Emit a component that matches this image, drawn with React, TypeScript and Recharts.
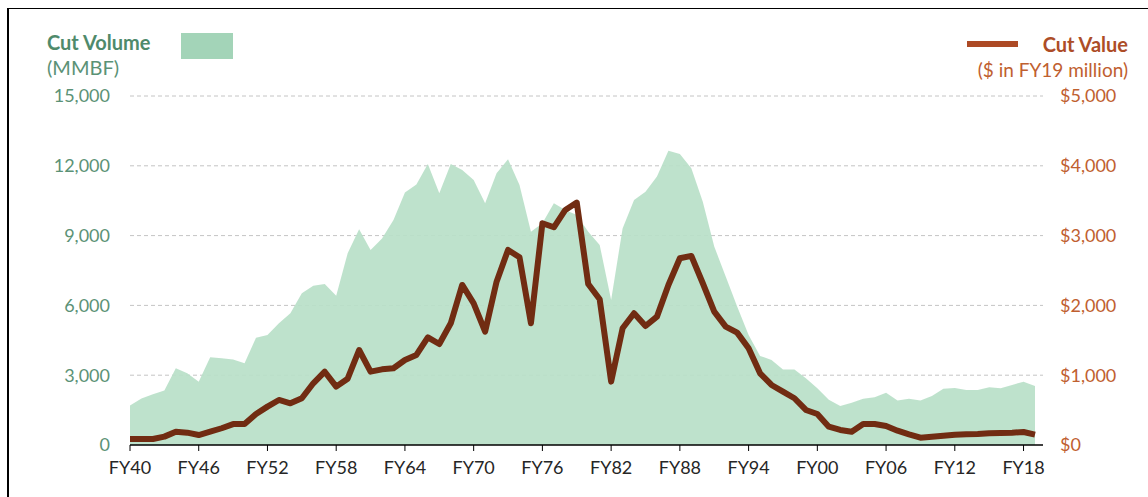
import { ComposedChart, Area, Line, XAxis, YAxis, CartesianGrid } from 'recharts';

const years = [
  'FY40', 'FY41', 'FY42', 'FY43', 'FY44', 'FY45', 'FY46', 'FY47', 'FY48', 'FY49',
  'FY50', 'FY51', 'FY52', 'FY53', 'FY54', 'FY55', 'FY56', 'FY57', 'FY58', 'FY59',
  'FY60', 'FY61', 'FY62', 'FY63', 'FY64', 'FY65', 'FY66', 'FY67', 'FY68', 'FY69',
  'FY70', 'FY71', 'FY72', 'FY73', 'FY74', 'FY75', 'FY76', 'FY77', 'FY78', 'FY79',
  'FY80', 'FY81', 'FY82', 'FY83', 'FY84', 'FY85', 'FY86', 'FY87', 'FY88', 'FY89',
  'FY90', 'FY91', 'FY92', 'FY93', 'FY94', 'FY95', 'FY96', 'FY97', 'FY98', 'FY99',
  'FY00', 'FY01', 'FY02', 'FY03', 'FY04', 'FY05', 'FY06', 'FY07', 'FY08', 'FY09',
  'FY10', 'FY11', 'FY12', 'FY13', 'FY14', 'FY15', 'FY16', 'FY17', 'FY18', 'FY19',
];

// cut volume, MMBF
const cutVolume = [
  1700, 2000, 2180, 2340, 3300, 3080, 2720, 3770, 3730, 3680,
  3510, 4610, 4730, 5230, 5660, 6520, 6840, 6920, 6420, 8240,
  9270, 8380, 8880, 9670, 10850, 11200, 12080, 10820, 12080, 11820,
  11390, 10390, 11680, 12280, 11180, 9170, 9530, 10390, 10100, 9890,
  9170, 8600, 6230, 9310, 10530, 10890, 11540, 12650, 12510, 11890,
  10460, 8530, 7240, 5950, 4730, 3830, 3650, 3250, 3250, 2870,
  2440, 1940, 1680, 1820, 1990, 2050, 2250, 1910, 1990, 1910,
  2110, 2420, 2450, 2360, 2360, 2480, 2440, 2580, 2720, 2540,
];

// cut value, $ in FY19 million
const cutValue = [
  86, 86, 86, 120, 190, 177, 143, 190, 240, 300,
  300, 444, 550, 645, 597, 669, 884, 1050, 836, 950,
  1361, 1051, 1084, 1099, 1218, 1290, 1543, 1447, 1744, 2293,
  2030, 1624, 2340, 2795, 2690, 1744, 3177, 3119, 3368, 3473,
  2307, 2088, 908, 1672, 1887, 1705, 1839, 2293, 2675, 2709,
  2317, 1911, 1696, 1610, 1385, 1027, 860, 764, 670, 502,
  444, 263, 215, 191, 301, 301, 272, 205, 153, 105,
  119, 134, 148, 153, 158, 167, 172, 177, 186, 148,
];

const volumeTicks = [0, 3000, 6000, 9000, 12000, 15000];
const valueTicks = [0, 1000, 2000, 3000, 4000, 5000];

const data = years.map((year, i) => ({ year, volume: cutVolume[i], value: cutValue[i] }));

const green = '#5b9276';
const rust = '#bf6030';

export default function App() {
  return (
    <div style={{ position: 'relative', width: 1148, height: 497, fontFamily: 'Lato, sans-serif', background: '#fff', overflow: 'hidden' }}>
      <style>{'body{margin:0}'}</style>
      <div style={{ position: 'absolute', left: 7, top: 8, width: 1200, height: 600, borderLeft: '2px solid #000', borderTop: '1px solid #000' }} />

      {/* left header */}
      <div style={{ position: 'absolute', left: 47, top: 30, fontSize: 20, fontWeight: 700, color: '#4f8a6b', lineHeight: '24px' }}>Cut Volume</div>
      <div style={{ position: 'absolute', left: 47, top: 55, fontSize: 20, color: green, lineHeight: '24px' }}>(MMBF)</div>
      <div style={{ position: 'absolute', left: 181, top: 33, width: 52, height: 26, background: '#a3d4b8' }} />

      {/* right header */}
      <div style={{ position: 'absolute', left: 967, top: 41, width: 51, height: 6, background: '#ad4a25' }} />
      <div style={{ position: 'absolute', right: 20, top: 32, fontSize: 20, fontWeight: 700, color: '#ad4d27', lineHeight: '24px' }}>Cut Value</div>
      <div style={{ position: 'absolute', right: 20, top: 58, fontSize: 19, color: rust, lineHeight: '24px' }}>($ in FY19 million)</div>

      <div style={{ position: 'absolute', left: 0, top: 0 }}>
        <ComposedChart width={1148} height={497} data={data} margin={{ top: 96, right: 0, bottom: 0, left: 0 }}>
          <CartesianGrid vertical={false} stroke="#c4c4c4" strokeDasharray="4 3" yAxisId="vol" horizontalValues={[3000, 6000, 9000, 12000, 15000]} />
          <XAxis
            dataKey="year"
            interval={5}
            height={52}
            padding={{ left: 0, right: 8 }}
            axisLine={{ stroke: '#000', strokeWidth: 1.5 }}
            tickLine={{ stroke: '#000' }}
            tickSize={6}
            tickMargin={10}
            tick={{ fill: '#262626', fontSize: 18 }}
          />
          <YAxis
            yAxisId="vol"
            orientation="left"
            width={130}
            domain={[0, 15000]}
            ticks={volumeTicks}
            axisLine={false}
            tickLine={false}
            tickSize={0}
            tickMargin={20}
            tickFormatter={(v: number) => v.toLocaleString('en-US')}
            tick={{ fill: green, fontSize: 18 }}
          />
          <YAxis
            yAxisId="val"
            orientation="right"
            width={105}
            domain={[0, 5000]}
            ticks={valueTicks}
            axisLine={false}
            tickLine={false}
            tickSize={0}
            tickMargin={17}
            tickFormatter={(v: number) => '$' + v.toLocaleString('en-US')}
            tick={{ fill: rust, fontSize: 18 }}
          />
          <Area
            yAxisId="vol"
            type="linear"
            dataKey="volume"
            stroke="none"
            fill="#b9e0c8"
            fillOpacity={0.92}
            isAnimationActive={false}
          />
          <Line
            yAxisId="val"
            type="linear"
            dataKey="value"
            stroke="#712c12"
            strokeWidth={6}
            strokeLinejoin="round"
            dot={false}
            activeDot={false}
            isAnimationActive={false}
          />
        </ComposedChart>
      </div>
    </div>
  );
}
